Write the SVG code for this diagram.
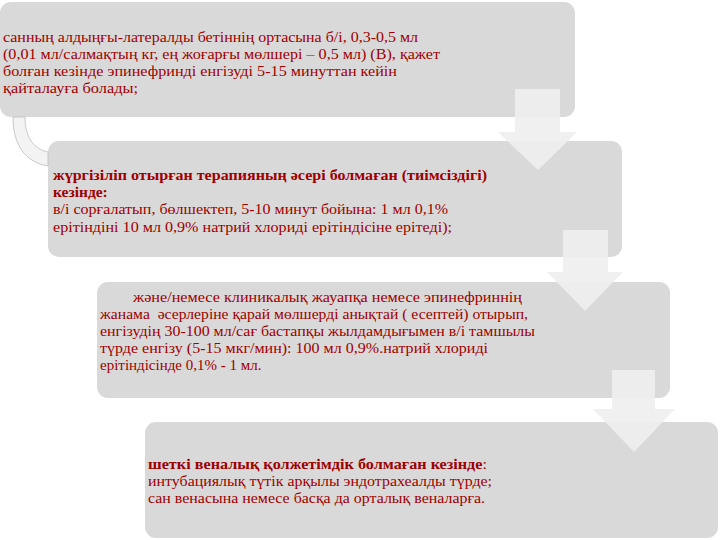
<svg xmlns="http://www.w3.org/2000/svg" width="720" height="540" viewBox="0 0 720 540">
<style>
.box{fill:#d9d9d9;}
.t{font-size:15.5px;fill:#a00000;}
.s{font-size:15px;}
.b{font-weight:bold;}
.arr{fill:#efefef;opacity:0.92;}
.band{fill:#f3f3f3;stroke:#bdbdbd;stroke-width:0.8;}
</style>
<rect width="720" height="540" fill="#ffffff"/>
<g id="node1" font-family="'Liberation Serif', 'Times New Roman', serif">
<rect class="box" x="0" y="2" width="575" height="115" rx="11"/>
<text class="t" x="3" y="41.5" textLength="415" lengthAdjust="spacingAndGlyphs">санның алдыңғы-латералды бетіннің ортасына б/і, 0,3-0,5 мл</text>
<text class="t" x="3" y="58.5" textLength="437" lengthAdjust="spacingAndGlyphs">(0,01 мл/салмақтың кг, ең жоғарғы мөлшері – 0,5 мл) (В), қажет</text>
<text class="t" x="3" y="75.5" textLength="394" lengthAdjust="spacingAndGlyphs">болған кезінде эпинефринді енгізуді 5-15 минуттан кейін</text>
<text class="t" x="3" y="92.5" textLength="135" lengthAdjust="spacingAndGlyphs">қайталауға болады;</text>
</g>
<g id="node2" font-family="'Liberation Serif', 'Times New Roman', serif">
<rect class="box" x="48" y="141" width="574" height="116" rx="11"/>
<text class="t b" x="53" y="179.5" textLength="434" lengthAdjust="spacingAndGlyphs">жүргізіліп отырған терапияның әсері болмаған (тиімсіздігі)</text>
<text class="t b" x="53" y="196.5">кезінде:</text>
<text class="t" x="53" y="214" textLength="395" lengthAdjust="spacingAndGlyphs">в/і сорғалатып, бөлшектеп, 5-10 минут бойына: 1 мл 0,1%</text>
<text class="t" x="53" y="231.5" textLength="399" lengthAdjust="spacingAndGlyphs">ерітіндіні 10 мл 0,9% натрий хлориді ерітіндісіне ерітеді);</text>
</g>
<g id="node3" font-family="'Liberation Serif', 'Times New Roman', serif">
<rect class="box" x="97" y="282" width="573" height="116" rx="11"/>
<text class="t s" x="133" y="302" textLength="389" lengthAdjust="spacingAndGlyphs">және/немесе клиникалық жауапқа немесе эпинефриннің</text>
<text class="t s" x="100" y="319" textLength="428" lengthAdjust="spacingAndGlyphs">жанама&#160; әсерлеріне қарай мөлшерді анықтай ( есептей) отырып,</text>
<text class="t s" x="100" y="336" textLength="435" lengthAdjust="spacingAndGlyphs">енгізудің 30-100 мл/сағ бастапқы жылдамдығымен в/і тамшылы</text>
<text class="t s" x="100" y="353" textLength="388" lengthAdjust="spacingAndGlyphs">түрде енгізу (5-15 мкг/мин): 100 мл 0,9%.натрий хлориді</text>
<text class="t s" x="100" y="370">ерітіндісінде 0,1% - 1 мл.</text>
</g>
<g id="node4" font-family="'Liberation Serif', 'Times New Roman', serif">
<rect class="box" x="145" y="422" width="573" height="116" rx="11"/>
<text class="t s" x="148" y="469" textLength="339" lengthAdjust="spacingAndGlyphs"><tspan class="b">шеткі веналық қолжетімдік болмаған кезінде</tspan>:</text>
<text class="t s" x="148" y="486" textLength="344" lengthAdjust="spacingAndGlyphs">интубациялық түтік арқылы эндотрахеалды түрде;</text>
<text class="t s" x="148" y="503" textLength="337" lengthAdjust="spacingAndGlyphs">сан венасына немесе басқа да орталық веналарға.</text>
</g>
<g id="connectors">
<path class="band" d="M13,117 C13,145 25,162 48,166 L48,152 C34,149 25,138 25,117 Z"/>
<path class="arr" d="M515,89 L560,89 L560,132 L577,132 L538,170 L498,132 L515,132 Z"/>
<path class="arr" d="M563,230 L608,230 L608,272 L623,272 L585,311 L547,272 L563,272 Z"/>
<path class="arr" d="M612,370 L655,370 L655,409 L675,409 L634,452 L593,409 L612,409 Z"/>
</g>
</svg>
